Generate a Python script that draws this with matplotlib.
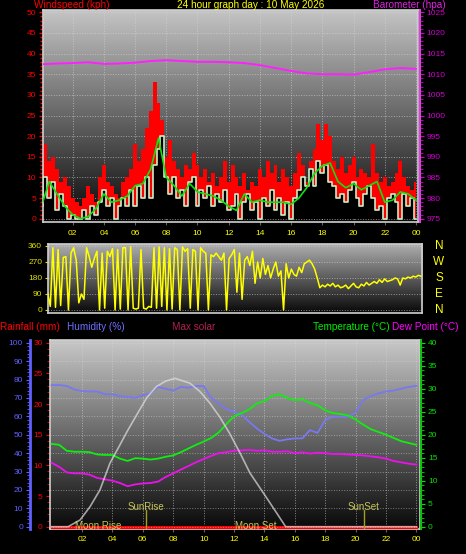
import matplotlib
matplotlib.use('Agg')
import matplotlib.pyplot as plt
import numpy as np
from matplotlib.colors import LinearSegmentedColormap
from matplotlib.ticker import MultipleLocator

plt.rcParams['font.family'] = ['Liberation Sans', 'DejaVu Sans']

W, H = 466, 554

hour_ticks = [2, 4, 6, 8, 10, 12, 14, 16, 18, 20, 22, 24]
hour_labels = ["02", "04", "06", "08", "10", "12", "14", "16", "18", "20", "22", "00"]

# wind (kph), 15 minute samples
wind_t = np.arange(0, 24.01, 0.25)
gust = [12, 18, 14, 15, 12, 9, 10, 8, 5, 4, 3, 5, 8, 6, 4, 10,
        13, 9, 8, 6, 5, 9, 10, 12, 18, 14, 17, 22, 26, 33, 28, 24,
        15, 19, 14, 12, 10, 13, 12, 16, 13, 10, 12, 9, 11, 8, 10, 14,
        9, 13, 10, 8, 11, 7, 9, 8, 12, 10, 14, 11, 13, 9, 12, 10,
        8, 11, 16, 13, 9, 14, 17, 23, 19, 23, 20, 14, 12, 15, 11, 13,
        15, 10, 12, 11, 10, 18, 11, 9, 10, 8, 9, 11, 14, 10, 8, 7, 9]
speed = [3, 10, 5, 9, 2, 6, 3, 0, 1, 0, 0, 2, 0, 3, 1, 4,
         7, 3, 5, 0, 3, 5, 3, 7, 3, 8, 5, 10, 5, 13, 17, 20,
         10, 6, 10, 5, 7, 3, 9, 10, 3, 7, 5, 8, 3, 6, 4, 7,
         2, 3, 6, 0, 4, 6, 2, 4, 0, 5, 3, 7, 2, 5, 1, 4,
         0, 5, 7, 10, 8, 12, 8, 14, 11, 13, 9, 8, 5, 6, 4, 7,
         9, 5, 3, 6, 8, 5, 2, 3, 0, 5, 6, 4, 0, 6, 3, 5, 0]

avg_t = np.arange(0, 24.01, 0.5)
avg_wind = [3, 9, 6, 3, 1, 0, 0.5, 2.5, 6, 4, 4.5, 5.5, 8, 8.5, 12, 19.5,
            10, 8, 5.5, 8.5, 6.5, 6, 5.5, 4.5, 3, 2, 6, 4, 4.5, 4, 4, 4,
            3.5, 5, 7.5, 11, 12.8, 13.5, 9, 7.5, 8.5, 7, 8, 9, 4, 4.5, 6.5, 6, 4.5]

# barometer (hpa), hourly
baro_t = np.arange(0, 25)
baro = [1012.4, 1012.6, 1012.7, 1012.9, 1012.5, 1012.6, 1012.8, 1013.2, 1013.4,
        1013.2, 1013.0, 1013.0, 1012.9, 1012.7, 1012.2, 1011.5, 1010.8, 1010.2,
        1010.0, 1010.0, 1009.9, 1010.5, 1011.2, 1011.5, 1011.3]

# wind direction (degrees), 10 minute samples
dir_t = np.arange(0, 145) / 6
direction = [95, 20, 350, 15, 340, 25,
             295, 300, 0, 320, 350, 280,
             40, 90, 60, 350, 300, 240,
             290, 330, 0, 320, 10, 330,
             300, 345, 0, 340, 5, 350,
             350, 0, 355, 10, 5, 10,
             340, 10, 5, 20, 15, 350,
             10, 355, 20, 350, 0, 345,
             5, 350, 340, 0, 355, 330,
             345, 10, 340, 330, 0, 350,
             330, 320, 0, 310, 300, 320,
             300, 280, 320, 0, 290, 310,
             340, 100, 320, 60, 280, 300,
             250, 330, 150, 270, 180, 290,
             200, 250, 180, 230, 270, 190,
             220, 0, 260, 180, 230, 200,
             190, 240, 210, 260, 270, 280,
             260, 230, 180, 125, 140, 130,
             145, 135, 150, 130, 140, 125,
             130, 140, 120, 135, 150, 130,
             125, 145, 135, 155, 140, 150,
             160, 150, 170, 155, 175, 160,
             165, 170, 180, 175, 140, 180,
             175, 185, 180, 190, 185, 195,
             190]

# climate, 30 minute samples
clim_t = np.arange(0, 24.01, 0.5)
humidity = [77, 77, 76.5, 74.5, 73.7, 73.5, 73.5, 72, 72, 71, 70.5, 70, 71.5, 72.5,
            76, 75, 74, 76, 75.5, 76.5, 76.5, 70, 67, 64, 62.5, 61, 57, 53.5, 50.5,
            48, 46.7, 47.5, 48, 48, 52.5, 51, 58, 59.8, 59.8, 59.8, 62, 68.8, 71,
            72.5, 73.5, 74, 75, 76, 76.6]
temperature = [18, 17.8, 16.5, 16.3, 16.3, 16.2, 15.7, 15.6, 15.6, 14.8, 14.3, 14.9,
               14.8, 14.6, 14.8, 15.2, 15.5, 16.2, 17, 17.8, 18.5, 19.3, 20.5, 22.3,
               24, 24.7, 25.5, 26.8, 27.3, 28.4, 28.8, 28, 27.5, 27.7, 26.9, 26.4,
               25.3, 24.7, 24.5, 24.2, 23.3, 22.2, 21.2, 20.6, 20, 19.3, 18.6, 18.2, 17.8]
dewpoint = [13.9, 13, 11.8, 11.6, 11.6, 11.3, 10.6, 10.3, 10, 9.5, 8.8, 9.2, 9.4, 9.5,
            9.8, 10.8, 11.6, 12.4, 13.2, 14.0, 14.7, 15.4, 16, 16.2, 16.5, 16.6, 16.7,
            16.5, 16.6, 16.3, 16.3, 16.4, 16, 16.2, 15.9, 16.1, 16, 15.8, 15.8, 15.7,
            15.6, 15.5, 15.3, 15.1, 14.8, 14.3, 14.0, 13.7, 13.5]

# max solar (W/m2)
solar_t = [0, 1.08, 1.87, 2.53, 3.18, 3.84, 4.5, 4.96, 5.6, 6.26, 6.9, 7.5, 8.12,
           9.1, 9.76, 10.4, 11.05, 11.7, 12.4, 13.05, 14.1, 14.8, 15.4, 24]
solar = [0, 0, 40, 120, 220, 380, 490, 568, 669, 771, 838, 870, 887,
         858, 808, 740, 658, 560, 440, 321, 179, 83, 0, 0]

rain_t = [0, 24]
rainfall = [0, 0]

events = [("Moon Rise", 1.52, "left", 0.016),
          ("SunRise", 6.23, "center", 0.118),
          ("Moon Set", 12.07, "left", 0.016),
          ("SunSet", 20.55, "center", 0.118)]
sun_lines = [6.23, 20.55]


def box(l, t, r, b):
    return [l / W, 1 - b / H, (r - l) / W, (b - t) / H]


def px(x, y):
    return x / W, 1 - y / H


def shade(ax, top_col):
    cmap = LinearSegmentedColormap.from_list('bg', ['#080808', top_col])
    ax.imshow(np.linspace(0, 1, 256).reshape(-1, 1), cmap=cmap, aspect='auto',
              origin='lower', extent=(0, 1, 0, 1), transform=ax.transAxes, zorder=0)


def frame(ax):
    for s in ax.spines.values():
        s.set_color('#d0d0d0')
        s.set_linewidth(1.2)


fig = plt.figure(figsize=(W / 100, H / 100), dpi=100, facecolor='black')
tfs = 7.2
lfs = 6.0

# ---------- wind panel ----------
ax = fig.add_axes(box(43, 10, 418, 222))
shade(ax, '#c4c4c4')
ax.fill_between(wind_t, speed, gust, step='mid', color='#ff0000', lw=0, zorder=2)
ax.fill_between(wind_t, 0, speed, step='mid', color='#000000', lw=0, zorder=2.5)
ax.step(wind_t, speed, where='mid', color='#c8f0c8', lw=1.2, zorder=3)
ax.plot(avg_t, avg_wind, color='#10e010', lw=1.2, zorder=4)
ax.set_xlim(0.1, 24.13)
ax.set_ylim(-0.8, 50.56)
ax.yaxis.set_major_locator(MultipleLocator(5))
ax.yaxis.set_minor_locator(MultipleLocator(1))
ax.tick_params(axis='y', which='both', colors='#ff0000', labelsize=lfs, length=3, width=1, pad=2)
ax.tick_params(axis='y', which='minor', length=2)
ax.set_xticks(hour_ticks)
ax.set_xticklabels(hour_labels)
ax.tick_params(axis='x', colors='#606060', labelcolor='#ffff00', labelsize=lfs, length=2, pad=4)
ax.grid(True, color='#d8d8d8', linestyle=':', lw=0.7, alpha=0.6, zorder=1)
frame(ax)

axb = ax.twinx()
axb.plot(baro_t, baro, color='#ff20ff', lw=1.4, zorder=5)
axb.set_ylim(974.2, 1025.56)
axb.yaxis.set_major_locator(MultipleLocator(5))
axb.yaxis.set_minor_locator(MultipleLocator(1))
axb.tick_params(axis='y', which='both', colors='#d000d0', labelsize=lfs, length=3, pad=2)
axb.tick_params(axis='y', which='minor', length=2)
for k in ['top', 'bottom', 'left']:
    axb.spines[k].set_visible(False)
axb.spines['right'].set_position(('axes', 1.005))
axb.spines['right'].set_color('#e040e0')
axb.spines['right'].set_linewidth(1.5)

fig.text(*px(34, 4.5), "Windspeed (kph)", color='#ff0000', fontsize=tfs, va='center', ha='left')
fig.text(*px(251, 4.5), "24 hour graph day : 10 May 2026", color='#ffff00', fontsize=tfs, va='center', ha='center')
fig.text(*px(446, 4.5), "Barometer (hpa)", color='#e020e0', fontsize=tfs, va='center', ha='right')

# ---------- direction panel ----------
axd = fig.add_axes(box(47.7, 244, 421.7, 313))
shade(axd, '#b0b0b0')
axd.plot(dir_t, direction, color='#ffff00', lw=1.1, zorder=3)
axd.set_xlim(0, 24.05)
axd.set_ylim(-17, 371)
axd.set_yticks([0, 90, 180, 270, 360])
axd.set_xticks(hour_ticks)
axd.tick_params(axis='x', length=0, labelbottom=False)
axd.tick_params(axis='y', colors='#e0e000', labelsize=lfs, length=2, pad=2)
axd.grid(True, axis='y', color='#d8d8d8', linestyle=':', lw=0.7, alpha=0.6, zorder=1)
frame(axd)
for lab, deg in zip(["N", "W", "S", "E", "N"], [360, 270, 180, 90, 0]):
    axd.text(1.046, deg, lab, color='#ffff00', fontsize=8.5, ha='center', va='center',
             transform=axd.get_yaxis_transform())

# ---------- climate panel ----------
axr = fig.add_axes(box(49.5, 340, 419.7, 529))
shade(axr, '#c8c8c8')
axr.plot(rain_t, rainfall, color='#ff0000', lw=2.2, zorder=3)
axr.set_xlim(-0.14, 24.22)
axr.set_ylim(-0.375, 30.44)
axr.yaxis.set_major_locator(MultipleLocator(5))
axr.yaxis.set_minor_locator(MultipleLocator(1))
axr.tick_params(axis='y', which='both', colors='#ff0000', labelsize=lfs, length=3, pad=2)
axr.tick_params(axis='y', which='minor', length=2)
axr.set_xticks(hour_ticks)
axr.set_xticklabels(hour_labels)
axr.tick_params(axis='x', colors='#606060', labelcolor='#ffff00', labelsize=lfs, length=2, pad=3)
axr.grid(True, axis='x', color='#d8d8d8', linestyle=':', lw=0.7, alpha=0.6, zorder=1)
frame(axr)

axh = axr.twinx()
axh.plot(clim_t, humidity, color='#7878f0', lw=1.3)
axh.set_ylim(-1.25, 101.5)
axh.yaxis.set_major_locator(MultipleLocator(10))
axh.yaxis.set_minor_locator(MultipleLocator(2))
axh.yaxis.set_ticks_position('left')
axh.spines['left'].set_position(('axes', -0.0527))
axh.spines['left'].set_color('#6060ff')
axh.spines['left'].set_linewidth(2)
for k in ['top', 'bottom', 'right']:
    axh.spines[k].set_visible(False)
axh.tick_params(axis='y', which='both', colors='#6060ff', labelsize=lfs, length=3, pad=2)
axh.tick_params(axis='y', which='minor', length=2)
axh.grid(True, axis='y', color='#d8d8d8', linestyle=':', lw=0.7, alpha=0.5)

axt = axr.twinx()
axt.plot(clim_t, temperature, color='#10ee10', lw=1.3)
axt.plot(clim_t, dewpoint, color='#ee10ee', lw=1.3)
axt.set_ylim(-0.5, 40.59)
axt.yaxis.set_major_locator(MultipleLocator(5))
axt.yaxis.set_minor_locator(MultipleLocator(1))
axt.spines['right'].set_position(('axes', 1.0035))
axt.spines['right'].set_color('#10c010')
axt.spines['right'].set_linewidth(1.5)
for k in ['top', 'bottom', 'left']:
    axt.spines[k].set_visible(False)
axt.tick_params(axis='y', which='both', colors='#00e000', labelsize=lfs, length=3, pad=2)
axt.tick_params(axis='y', which='minor', length=2)

axs = axr.twinx()
axs.plot(solar_t, solar, color='#e0e0e0', lw=1.2, alpha=0.7)
axs.set_ylim(-13.75, 1116.1)
axs.set_yticks([])
for s in axs.spines.values():
    s.set_visible(False)
for lab, hx, ha, fy in events:
    axs.text(hx, fy, lab, color='#d8d860', fontsize=7, ha=ha, va='center', alpha=0.9,
             transform=axs.get_xaxis_transform())
for hx in sun_lines:
    axs.plot([hx, hx], [0, 0.1], color='#a0a020', lw=1, transform=axs.get_xaxis_transform())

fig.text(*px(0, 327), "Rainfall (mm)", color='#ff0000', fontsize=tfs, va='center', ha='left')
fig.text(*px(67, 327), "Humidity (%)", color='#7070ff', fontsize=tfs, va='center', ha='left')
fig.text(*px(172, 327), "Max solar", color='#b02050', fontsize=tfs, va='center', ha='left')
fig.text(*px(313, 327), "Temperature (°C)", color='#00ee00', fontsize=tfs, va='center', ha='left')
fig.text(*px(392, 327), "Dew Point (°C)", color='#ff00ff', fontsize=tfs, va='center', ha='left')

fig.savefig('out.png', dpi=100, facecolor='black')
